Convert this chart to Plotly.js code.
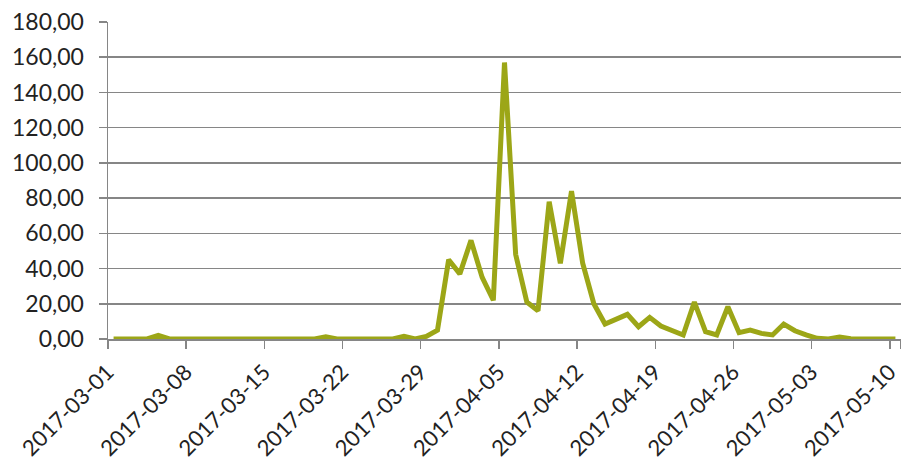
<!DOCTYPE html>
<html>
<head>
<meta charset="utf-8">
<script src="https://cdn.plot.ly/plotly-3.0.1.min.js"></script>
<style>html,body{margin:0;padding:0;background:#fff;}#chart{width:901px;height:463px;}</style>
</head>
<body>
<div id="chart"></div>
<script>
// Daily dates 2017-03-01 .. 2017-05-10
const dates = [
"2017-03-01","2017-03-02","2017-03-03","2017-03-04","2017-03-05","2017-03-06","2017-03-07",
"2017-03-08","2017-03-09","2017-03-10","2017-03-11","2017-03-12","2017-03-13","2017-03-14",
"2017-03-15","2017-03-16","2017-03-17","2017-03-18","2017-03-19","2017-03-20","2017-03-21",
"2017-03-22","2017-03-23","2017-03-24","2017-03-25","2017-03-26","2017-03-27","2017-03-28",
"2017-03-29","2017-03-30","2017-03-31","2017-04-01","2017-04-02","2017-04-03","2017-04-04",
"2017-04-05","2017-04-06","2017-04-07","2017-04-08","2017-04-09","2017-04-10","2017-04-11",
"2017-04-12","2017-04-13","2017-04-14","2017-04-15","2017-04-16","2017-04-17","2017-04-18",
"2017-04-19","2017-04-20","2017-04-21","2017-04-22","2017-04-23","2017-04-24","2017-04-25",
"2017-04-26","2017-04-27","2017-04-28","2017-04-29","2017-04-30","2017-05-01","2017-05-02",
"2017-05-03","2017-05-04","2017-05-05","2017-05-06","2017-05-07","2017-05-08","2017-05-09",
"2017-05-10"
];
const values = [
0, 0, 0, 0, 2, 0, 0,
0, 0, 0, 0, 0, 0, 0,
0, 0, 0, 0, 0, 1.2, 0,
0, 0, 0, 0, 0, 1.5, 0,
1.5, 5, 45, 37, 56, 35, 22,
157, 48, 21, 16, 78, 43, 84,
43, 20, 8.5, 11.5, 14, 7, 12.3,
7.4, 4.5, 2.3, 21, 4.2, 2.3, 18.3,
3.6, 5.1, 3.2, 2.3, 8.5, 4.7, 2.3,
0.4, 0, 1.1, 0.2, 0, 0, 0,
0
];
const tickDates = ["2017-03-01","2017-03-08","2017-03-15","2017-03-22","2017-03-29",
"2017-04-05","2017-04-12","2017-04-19","2017-04-26","2017-05-03","2017-05-10"];

const axisGrey = "#868686";
const fontFam = "Lato, 'Open Sans', sans-serif";

const trace = {
  x: dates, y: values, type: "scatter", mode: "lines",
  line: {color: "#9ca617", width: 5, shape: "linear"},
  hoverinfo: "skip"
};

const layout = {
  width: 901, height: 463,
  margin: {l: 108, r: 0, t: 22, b: 124},
  paper_bgcolor: "#ffffff", plot_bgcolor: "rgba(0,0,0,0)",
  separators: ",.",
  showlegend: false,
  font: {family: fontFam, size: 23, color: "#222222"},
  xaxis: {
    type: "category",
    range: [-0.5, dates.length - 0.5],
    tickmode: "array", tickvals: tickDates, ticktext: tickDates,
    tickangle: -45, ticks: "outside", ticklen: 8, tickwidth: 1.5, tickcolor: axisGrey,
    tickson: "boundaries",
    ticklabelstandoff: 10,
    ticklabelshift: -6,
    showline: true, linecolor: axisGrey, linewidth: 1.5,
    showgrid: false, zeroline: false,
    tickfont: {family: fontFam, size: 22, color: "#222222"}
  },
  yaxis: {
    range: [0, 180], dtick: 20, tick0: 0,
    tickformat: ".2f",
    ticks: "outside", ticklen: 8, tickwidth: 1.5, tickcolor: axisGrey,
    ticklabelstandoff: 10,
    showline: true, linecolor: axisGrey, linewidth: 1.5,
    showgrid: true, gridcolor: axisGrey, gridwidth: 1.5,
    zeroline: false,
    tickfont: {family: fontFam, size: 23, color: "#222222"}
  }
};

Plotly.newPlot("chart", [trace], layout, {displayModeBar: false, staticPlot: true});
</script>
</body>
</html>
